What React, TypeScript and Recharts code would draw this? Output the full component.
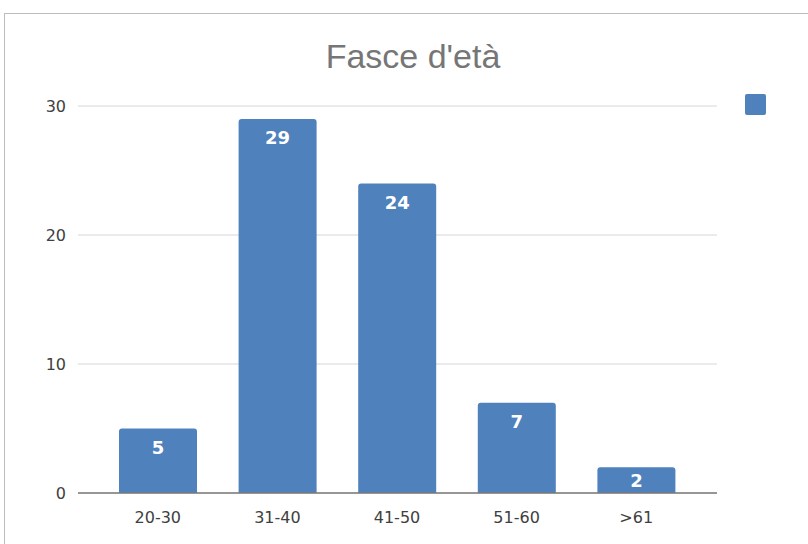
import { BarChart, Bar, XAxis, YAxis, CartesianGrid, LabelList } from 'recharts'

const fasce = ['20-30', '31-40', '41-50', '51-60', '>61']
const persone = [5, 29, 24, 7, 2]
const yTicks = [0, 10, 20, 30]

const data = fasce.map((fascia, i) => ({ fascia, persone: persone[i] }))

const titleFont = '"Liberation Sans", Arial, sans-serif'
const tickFont = '"DejaVu Sans", Verdana, sans-serif'

// etichetta in alto dentro la barra; per barre basse resta centrata
function BarValue(props: any) {
  const { x, y, width, height, value } = props
  const dy = Math.min(19, height / 2)
  return (
    <text
      x={x + width / 2}
      y={y + dy}
      textAnchor="middle"
      dominantBaseline="central"
      fill="#ffffff"
      fontSize={18}
      fontWeight="bold"
      fontFamily={tickFont}
    >
      {value}
    </text>
  )
}

export default function App() {
  return (
    <div style={{ position: 'fixed', left: 0, top: 0, width: 808, height: 544, overflow: 'hidden', background: '#fff' }}>
      <div style={{ position: 'absolute', left: 4, top: 13, width: 840, height: 600, border: '1.5px solid #bdbdbd' }} />
      <div style={{ position: 'absolute', left: 0, width: 826, top: 37, textAlign: 'center', fontSize: 34, color: '#767676', fontFamily: titleFont }}>
        Fasce d'età
      </div>
      {/* legenda senza testo: solo il quadratino */}
      <div style={{ position: 'absolute', left: 745, top: 94, width: 21, height: 21, background: '#4f81bd', borderRadius: 2 }} />
      <div style={{ position: 'absolute', left: 0, top: 0 }}>
        <BarChart width={808} height={544} data={data} margin={{ top: 106, right: 91, bottom: 0, left: 0 }} barCategoryGap={21}>
          <CartesianGrid vertical={false} stroke="#d6d6d6" />
          <XAxis
            dataKey="fascia"
            height={51}
            tickLine={false}
            tickSize={0}
            tickMargin={19}
            stroke="#7a7a7a"
            strokeWidth={1.5}
            padding={{ left: 20, right: 21 }}
            tick={{ fill: '#404040', fontSize: 16, fontFamily: tickFont }}
          />
          <YAxis
            width={78}
            domain={[0, 30]}
            ticks={yTicks}
            axisLine={false}
            tickLine={false}
            tickSize={0}
            tickMargin={12}
            tick={{ fill: '#404040', fontSize: 16, fontFamily: tickFont }}
          />
          <Bar dataKey="persone" fill="#4f81bd" radius={[3, 3, 0, 0]} isAnimationActive={false}>
            <LabelList dataKey="persone" content={BarValue} />
          </Bar>
        </BarChart>
      </div>
    </div>
  )
}
